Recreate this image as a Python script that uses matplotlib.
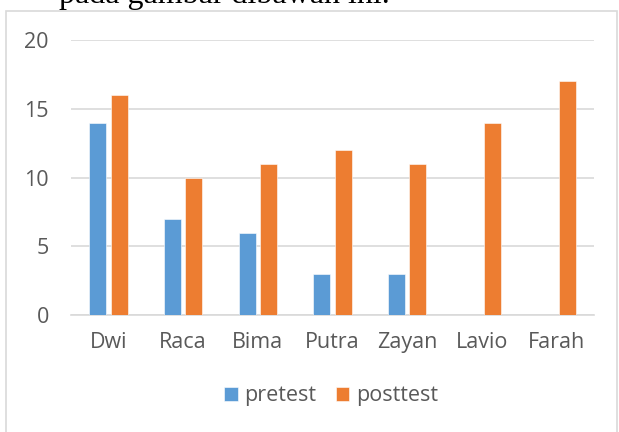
import matplotlib
matplotlib.use("Agg")
import matplotlib.pyplot as plt
import matplotlib.patches as mpatches
import numpy as np

# data
names = ["Dwi", "Raca", "Bima", "Putra", "Zayan", "Lavio", "Farah"]
pretest = [14, 7, 6, 3, 3, 0, 0]
posttest = [16, 10, 11, 12, 11, 14, 17]
yticks = [0, 5, 10, 15, 20]

blue = "#5B9BD5"
orange = "#ED7D31"
grey_txt = "#595959"
grid_col = "#D9D9D9"

plt.rcParams['font.family'] = ['Open Sans', 'DejaVu Sans']

fig = plt.figure(figsize=(6.19, 4.32), dpi=100)
W, H = 619, 432

# frame around the chart (bottom runs off the picture)
frame = mpatches.Rectangle((6 / W, -0.1), (617 - 6) / W, 1.1 - 11 / H,
                           transform=fig.transFigure, fill=False,
                           edgecolor="#D9D9D9", linewidth=1.2)
fig.patches.append(frame)

# cut-off line of text above the chart
fig.text(59 / W, 1 - 2.5 / H, "pada gambar dibawah ini.", family="Liberation Serif",
         fontsize=23, color="black", ha="left", va="baseline")

ax = fig.add_axes([71 / W, 1 - 315 / H, (594 - 71) / W, (315 - 40) / H])

x = np.arange(len(names))
bw = 0.228
off = 0.144
ax.bar(x - off, pretest, width=bw, color=blue, edgecolor="white", linewidth=0.4,
       label="pretest", zorder=3)
ax.bar(x + off, posttest, width=bw, color=orange, edgecolor="white", linewidth=0.4,
       label="posttest", zorder=3)

ax.set_xlim(-0.5, len(names) - 0.5)
ax.set_ylim(0, 20)
ax.set_yticks(yticks)
ax.set_xticks(x)
ax.set_xticklabels(names)
ax.yaxis.grid(True, color=grid_col, linewidth=1.2, zorder=0)
ax.set_axisbelow(True)
for s in ["top", "right", "left"]:
    ax.spines[s].set_visible(False)
ax.spines["bottom"].set_color(grid_col)
ax.spines["bottom"].set_linewidth(1.2)
ax.tick_params(axis="both", length=0, labelsize=15.5, colors=grey_txt)
ax.tick_params(axis="x", pad=12)
ax.tick_params(axis="y", pad=16)

leg = fig.legend(loc="center", bbox_to_anchor=(331 / W, 1 - 396 / H), ncol=2,
                 frameon=False, fontsize=15.5, handlelength=0.63, handleheight=0.63,
                 handletextpad=0.3, columnspacing=0.9)
for t in leg.get_texts():
    t.set_color(grey_txt)

fig.savefig("out.png", dpi=100)
